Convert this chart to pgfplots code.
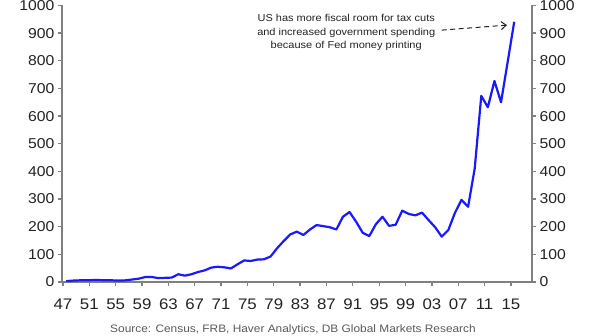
\documentclass[border=0pt]{standalone}
\usepackage{pgfplots}
\pgfplotsset{compat=1.18}
\usepackage{pgfplotstable}
\usepackage{fontspec}
\setmainfont{Liberation Sans}[FakeStretch=1.1]
\usetikzlibrary{arrows.meta}
\definecolor{axisgray}{RGB}{128,128,128}
\definecolor{lineblue}{RGB}{25,25,255}
\definecolor{txt}{RGB}{35,35,35}
\pgfplotstableread{
year val
1947 3
1948 5
1949 6
1950 6
1951 7
1952 7
1953 6
1954 6
1955 5
1956 6
1957 9
1958 12
1959 18
1960 18
1961 14
1962 15
1963 16
1964 28
1965 23
1966 28
1967 36
1968 42
1969 52
1970 55
1971 53
1972 49
1973 64
1974 78
1975 76
1976 81
1977 82
1978 92
1979 122
1980 148
1981 172
1982 182
1983 170
1984 190
1985 206
1986 202
1987 198
1988 190
1989 236
1990 253
1991 218
1992 178
1993 166
1994 209
1995 236
1996 203
1997 207
1998 258
1999 246
2000 241
2001 251
2002 224
2003 198
2004 164
2005 188
2006 250
2007 297
2008 272
2009 410
2010 673
2011 632
2012 727
2013 650
2014 795
2015 941
}\datatable
\begin{document}
\begin{tikzpicture}
\path[use as bounding box] (0,0) rectangle (600pt,336pt);
\pgfplotsset{myax/.style={
  at={(62pt,54pt)}, anchor=south west, scale only axis,
  width=470pt, height=276.5pt,
  xmin=1946.35, xmax=2017.7, ymin=0, ymax=1000,
  ytick={0,100,200,300,400,500,600,700,800,900,1000},
  tick align=outside, major tick length=4pt,
  every tick/.style={axisgray, line width=1.3pt},
  axis line style={axisgray, line width=1.5pt},
  /pgf/number format/assume math mode=true,
  /pgf/number format/1000 sep={},
  yticklabel style={font=\fontsize{14.3}{16}\selectfont, text=txt},
  xticklabel style={font=\fontsize{15.3}{17}\selectfont, text=txt, yshift=-9pt},
  clip=false,
}}
\begin{axis}[myax, axis y line*=left, axis x line*=bottom,
  xtick={1946.5,1950.5,1954.5,1958.5,1962.5,1966.5,1970.5,1974.5,1978.5,1982.5,1986.5,1990.5,1994.5,1998.5,2002.5,2006.5,2010.5,2014.5},
  xticklabels={47,51,55,59,63,67,71,75,79,83,87,91,95,99,03,07,11,15}]
\addplot[lineblue, line width=2.2pt, no markers, line join=round] table[x=year, y=val] {\datatable};
\node[align=center, font=\fontsize{10}{13.3}\selectfont, text=txt] at (axis cs:1989.5,902) {US has more fiscal room for tax cuts\\and increased government spending\\because of Fed money printing};
\draw[txt, dashed, dash pattern=on 5pt off 3.5pt, line width=1pt, -{Straight Barb[length=5pt, width=8pt]}] (axis cs:2004,911) -- (axis cs:2013.9,929);
\end{axis}
\begin{axis}[myax, axis y line*=right, axis x line=none, xtick=\empty]
\end{axis}
\node[font=\fontsize{10.8}{13}\selectfont, text=black!65] at (293pt,6pt) {Source: Census, FRB, Haver Analytics, DB Global Markets Research};
\end{tikzpicture}
\end{document}
